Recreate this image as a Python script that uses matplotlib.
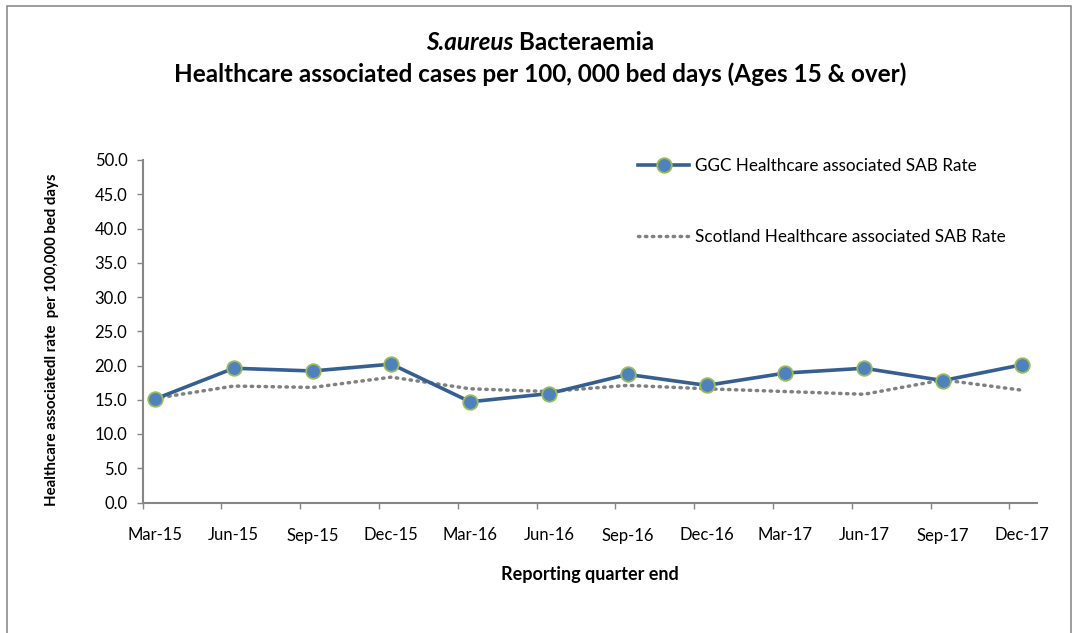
import numpy as np
import matplotlib.pyplot as plt
from matplotlib.patches import Rectangle

plt.rcParams['font.family'] = ['Lato', 'DejaVu Sans']

quarters = ['Mar-15', 'Jun-15', 'Sep-15', 'Dec-15', 'Mar-16', 'Jun-16',
            'Sep-16', 'Dec-16', 'Mar-17', 'Jun-17', 'Sep-17', 'Dec-17']
ggc_rate = [15.1, 19.6, 19.2, 20.2, 14.7, 15.9, 18.7, 17.1, 18.9, 19.6, 17.8, 20.1]
scotland_rate = [15.2, 17.0, 16.8, 18.3, 16.6, 16.2, 17.1, 16.6, 16.2, 15.8, 17.9, 16.4]
yticks = np.arange(0, 50.1, 5)

W, H = 1073, 633
fig = plt.figure(figsize=(W / 100, H / 100), dpi=100)
fig.patches.append(Rectangle((7 / W, -0.02), 1064 / W, 1.0 - 6 / H + 0.02,
                             transform=fig.transFigure, fill=False,
                             edgecolor='#8c8c8c', linewidth=1.2))

ax = fig.add_axes([142.7 / W, (H - 502.5) / H, (1036.7 - 142.7) / W, (502.5 - 160) / H])
x = np.arange(len(quarters))

ax.plot(x, scotland_rate, color='#808080', linewidth=2.5, linestyle=(0, (0.4, 1.6)),
        dash_capstyle='round', label='Scotland Healthcare associated SAB Rate', zorder=2)
ax.plot(x, ggc_rate, color='#365F91', linewidth=2.6, marker='o', markersize=10.5,
        markerfacecolor='#4F81BD', markeredgecolor='#9BBB59', markeredgewidth=1.3,
        label='GGC Healthcare associated SAB Rate', zorder=3)

ax.set_ylim(0, 50)
ax.set_xlim(-0.156, 11.19)
ax.set_yticks(yticks)
ax.set_yticklabels([f'{v:.1f}' for v in yticks], fontsize=12)
ax.set_xticks(x - 0.156)
ax.set_xticklabels([])
ax.set_xticks(x, minor=True)
ax.set_xticklabels(quarters, minor=True, fontsize=12)
ax.tick_params(axis='x', which='major', length=4, color='#868686', width=1)
ax.tick_params(axis='x', which='minor', length=0, pad=18)
ax.tick_params(axis='y', length=4, color='#868686', width=1, pad=7)

for s in ['top', 'right']:
    ax.spines[s].set_visible(False)
for s in ['left', 'bottom']:
    ax.spines[s].set_color('#868686')
    ax.spines[s].set_linewidth(1.5)

ax.set_xlabel('Reporting quarter end', fontsize=13, fontweight='bold')
ax.xaxis.set_label_coords(0.5, -0.185)
fig.text(52 / W, (H - 340) / H, 'Healthcare associatedl rate  per 100,000 bed days',
         rotation=90, ha='center', va='center', fontsize=10.8, fontweight='bold')

handles, labels = ax.get_legend_handles_labels()
leg = ax.legend(handles[::-1], labels[::-1], loc='upper left', bbox_to_anchor=(0.537, 1.05),
                frameon=False, fontsize=12.3, labelspacing=3.2, handlelength=3.0,
                handletextpad=0.3)

# title: first line mixes italic and regular bold
t1 = fig.text(0.5, (H - 42) / H, 'S.aureus', fontsize=17.5, fontweight='bold',
              fontstyle='italic', ha='left', va='center')
t2 = fig.text(0.5, (H - 42) / H, ' Bacteraemia', fontsize=17.5, fontweight='bold',
              ha='left', va='center')
fig.text(540 / W, (H - 74) / H,
         'Healthcare associated cases per 100, 000 bed days (Ages 15 & over)',
         fontsize=17.5, fontweight='bold', ha='center', va='center')
fig.canvas.draw()
r = fig.canvas.get_renderer()
w1 = t1.get_window_extent(r).width
w2 = t2.get_window_extent(r).width
start = 540 - (w1 + w2) / 2
t1.set_x(start / W)
t2.set_x((start + w1) / W)

fig.savefig('out.png', dpi=100)
